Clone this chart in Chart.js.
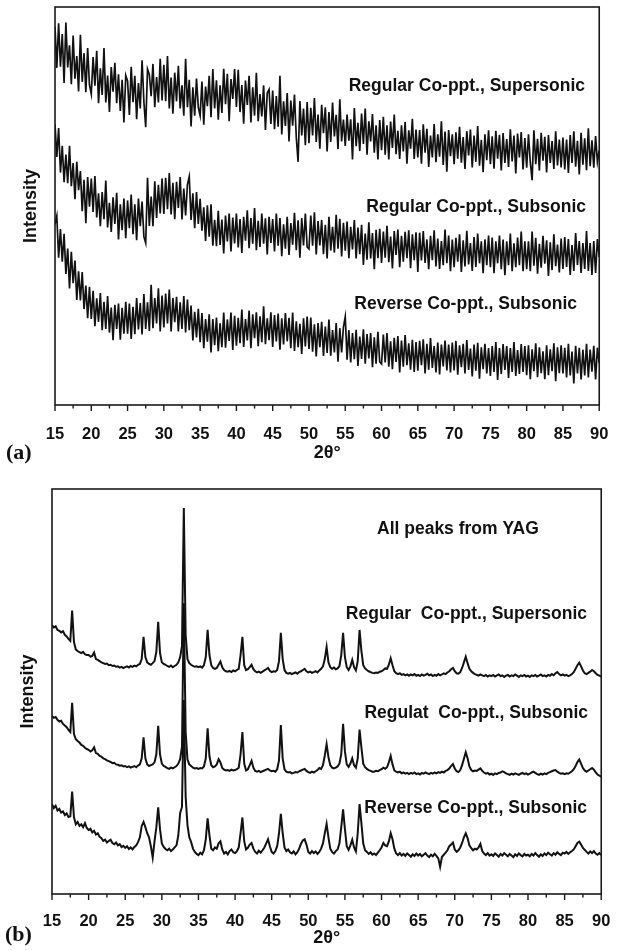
<!DOCTYPE html>
<html>
<head>
<meta charset="utf-8">
<script src="https://cdn.jsdelivr.net/npm/chart.js@4.4.1/dist/chart.umd.min.js"></script>
<style>
  html, body { margin: 0; padding: 0; background: #fff; }
  #wrap { position: relative; width: 620px; height: 950px; }
  canvas { position: absolute; left: 0; }
  #chartA { top: 0; }
  #chartB { top: 470px; }
</style>
</head>
<body>
<div id="wrap">
  <canvas id="chartA" width="620" height="470"></canvas>
  <canvas id="chartB" width="620" height="480"></canvas>
</div>
<script>
// X GRID (2theta, 0.25 deg sampling from 15 to 90)
const thetaStart = 15, thetaStep = 0.25, thetaCount = 301;
const twoTheta = [];
for (let i = 0; i < thetaCount; i++) twoTheta.push(thetaStart + i * thetaStep);

const xTicks = [15, 20, 25, 30, 35, 40, 45, 50, 55, 60, 65, 70, 75, 80, 85, 90];
const minorTicks = [17.5, 22.5, 27.5, 32.5, 37.5, 42.5, 47.5, 52.5, 57.5, 62.5, 67.5, 72.5, 77.5, 82.5, 87.5];

// PANEL (a) - amorphous precursors, intensity in arbitrary units (0-1000)
const aSupersonic = [
  950, 847, 959, 850, 932, 809, 961, 848, 904, 806, 928, 820, 877, 788, 930, 812, 884, 786, 897, 804,
  781, 874, 802, 890, 758, 846, 779, 897, 760, 828, 736, 849, 787, 860, 758, 831, 739, 817, 710, 828,
  814, 729, 850, 761, 827, 718, 809, 745, 866, 762, 698, 844, 830, 776, 857, 748, 824, 760, 870, 765,
  855, 763, 877, 745, 823, 732, 835, 763, 852, 745, 803, 727, 870, 748, 817, 700, 798, 727, 820, 748,
  727, 813, 704, 800, 751, 827, 723, 844, 745, 816, 717, 803, 734, 845, 756, 832, 713, 819, 769, 844,
  749, 842, 736, 804, 707, 815, 754, 827, 710, 798, 727, 835, 713, 781, 725, 803, 691, 784, 793, 706,
  790, 693, 776, 699, 827, 680, 763, 701, 784, 662, 765, 702, 780, 673, 611, 764, 677, 745, 653, 761,
  658, 747, 677, 771, 661, 730, 644, 754, 683, 748, 637, 736, 661, 760, 675, 729, 643, 768, 662, 717,
  651, 730, 664, 718, 617, 746, 650, 709, 638, 732, 656, 745, 629, 713, 662, 731, 634, 703, 617, 716,
  640, 724, 629, 703, 617, 712, 646, 730, 630, 689, 618, 703, 637, 711, 606, 690, 644, 719, 618, 692,
  622, 691, 606, 705, 634, 694, 598, 677, 622, 706, 610, 680, 624, 713, 603, 687, 586, 691, 625, 680,
  605, 685, 619, 699, 609, 673, 593, 688, 627, 692, 597, 677, 611, 701, 601, 666, 585, 680, 615, 690,
  605, 675, 594, 689, 619, 679, 589, 683, 608, 668, 598, 693, 612, 677, 582, 682, 622, 686, 592, 671,
  596, 680, 610, 565, 690, 605, 669, 589, 684, 614, 674, 584, 678, 608, 663, 593, 688, 602, 667, 597,
  672, 592, 667, 583, 678, 608, 688, 599, 664, 579, 684, 604, 670, 590, 695, 600, 665, 596, 676, 611,
  640
];
const aSubsonic = [
  705, 623, 696, 584, 651, 560, 629, 557, 651, 550, 608, 517, 611, 540, 588, 487, 566, 457, 573, 498,
  569, 485, 575, 471, 532, 449, 535, 467, 564, 446, 508, 435, 522, 455, 533, 416, 504, 439, 519, 419,
  514, 444, 529, 429, 504, 414, 519, 449, 511, 423, 407, 571, 450, 524, 449, 562, 470, 553, 481, 569,
  480, 571, 492, 583, 479, 558, 467, 561, 495, 573, 466, 544, 476, 554, 574, 465, 532, 444, 535, 455,
  518, 438, 497, 412, 502, 423, 504, 400, 465, 399, 488, 402, 466, 381, 476, 411, 481, 386, 471, 406,
  481, 396, 467, 382, 473, 413, 489, 394, 470, 405, 495, 389, 463, 397, 481, 405, 469, 378, 473, 407,
  467, 386, 481, 400, 470, 374, 454, 393, 473, 377, 457, 403, 483, 389, 464, 370, 470, 401, 481, 397,
  392, 476, 400, 484, 378, 462, 401, 465, 379, 453, 368, 473, 388, 448, 383, 478, 393, 468, 373, 458,
  388, 461, 369, 448, 391, 465, 368, 446, 379, 453, 352, 431, 365, 459, 368, 432, 341, 440, 369, 443,
  357, 436, 370, 450, 359, 423, 343, 437, 377, 441, 346, 425, 360, 435, 369, 439, 344, 429, 364, 434,
  334, 433, 363, 437, 357, 416, 341, 425, 364, 439, 348, 418, 342, 412, 351, 441, 356, 426, 336, 416,
  346, 420, 360, 429, 334, 414, 348, 438, 353, 407, 337, 422, 347, 431, 356, 411, 331, 416, 351, 426,
  346, 421, 331, 411, 356, 426, 341, 416, 326, 411, 351, 431, 336, 406, 346, 421, 351, 436, 336, 411,
  341, 411, 336, 436, 350, 420, 330, 405, 345, 425, 355, 414, 324, 409, 339, 429, 349, 403, 333, 418,
  342, 422, 347, 417, 327, 402, 337, 432, 352, 412, 332, 407, 342, 437, 337, 407, 327, 412, 332, 417,
  372
];
const aReverse = [
  454, 475, 370, 442, 360, 430, 329, 393, 293, 385, 306, 363, 264, 336, 263, 334, 241, 300, 218, 297,
  216, 287, 198, 268, 209, 281, 188, 259, 191, 274, 182, 245, 163, 252, 191, 255, 164, 244, 179, 259,
  179, 255, 166, 247, 178, 269, 190, 256, 177, 279, 191, 258, 186, 302, 193, 269, 205, 293, 185, 275,
  195, 280, 205, 290, 185, 269, 208, 272, 185, 258, 191, 274, 182, 265, 188, 250, 162, 234, 170, 242,
  158, 231, 143, 216, 159, 228, 132, 216, 150, 220, 135, 205, 145, 232, 144, 215, 161, 232, 138, 224,
  149, 219, 155, 240, 146, 216, 162, 237, 143, 228, 168, 233, 148, 223, 158, 248, 153, 218, 163, 233,
  146, 226, 160, 230, 139, 218, 152, 231, 160, 219, 143, 232, 136, 210, 145, 204, 128, 218, 147, 222,
  141, 220, 134, 203, 122, 206, 145, 209, 123, 197, 131, 215, 124, 188, 132, 206, 109, 193, 132, 196,
  222, 114, 188, 107, 181, 115, 189, 98, 172, 116, 190, 104, 178, 117, 181, 95, 170, 104, 184, 108,
  103, 177, 107, 181, 96, 160, 90, 169, 108, 173, 82, 162, 96, 176, 100, 155, 89, 164, 83, 158,
  86, 161, 100, 165, 79, 154, 89, 168, 93, 148, 82, 157, 77, 152, 97, 162, 87, 152, 82, 157,
  87, 161, 76, 150, 95, 154, 79, 163, 88, 142, 72, 152, 86, 156, 66, 145, 90, 154, 79, 143,
  73, 148, 83, 158, 63, 143, 78, 153, 88, 148, 68, 143, 83, 158, 73, 138, 78, 153, 83, 148,
  75, 150, 65, 140, 85, 155, 70, 145, 80, 135, 65, 150, 75, 140, 85, 155, 60, 145, 80, 150,
  79, 144, 69, 154, 74, 134, 54, 149, 79, 144, 64, 139, 74, 154, 69, 139, 84, 149, 64, 144,
  105
];

// PANEL (b) - calcined powders, YAG peaks
const bSupersonic = [
  664, 658, 661, 652, 650, 646, 649, 640, 636, 630, 625, 700, 622, 604, 600, 597, 595, 598, 592, 590,
  590, 586, 588, 596, 580, 578, 575, 572, 570, 568, 569, 565, 566, 563, 564, 561, 562, 559, 561, 558,
  560, 562, 559, 563, 561, 564, 562, 566, 568, 580, 635, 585, 572, 568, 566, 570, 575, 598, 672, 595,
  572, 568, 566, 563, 561, 564, 560, 563, 566, 572, 585, 612, 953, 640, 580, 570, 566, 563, 561, 562,
  560, 562, 559, 565, 585, 652, 590, 565, 558, 556, 558, 566, 574, 560, 553, 550, 549, 551, 548, 552,
  550, 553, 556, 590, 635, 565, 553, 555, 560, 566, 555, 550, 547, 549, 546, 549, 552, 555, 558, 551,
  548, 550, 549, 553, 575, 645, 580, 553, 546, 544, 546, 543, 545, 547, 544, 548, 550, 553, 556, 550,
  547, 549, 546, 548, 550, 547, 552, 556, 562, 580, 610, 572, 560, 556, 559, 555, 557, 563, 590, 645,
  585, 560, 553, 562, 578, 560, 552, 575, 652, 600, 565, 557, 553, 550, 548, 546, 545, 547, 546, 549,
  550, 553, 557, 556, 566, 582, 565, 550, 545, 543, 545, 541, 543, 540, 542, 539, 542, 540, 543, 539,
  541, 538, 542, 539, 541, 544, 540, 542, 538, 541, 539, 543, 540, 542, 545, 543, 547, 550, 555, 558,
  550, 545, 544, 548, 558, 572, 586, 570, 556, 550, 546, 543, 541, 539, 542, 540, 538, 541, 537, 540,
  538, 541, 537, 540, 542, 538, 540, 536, 539, 541, 537, 540, 538, 542, 539, 536, 540, 538, 541, 537,
  539, 536, 540, 538, 541, 537, 539, 542, 538, 540, 537, 541, 539, 543, 540, 545, 548, 543, 540, 542,
  539, 541, 538, 540, 543, 548, 556, 565, 571, 562, 552, 545, 543, 546, 549, 553, 550, 545, 541, 539,
  537
];
const bSubsonic = [
  440, 435, 437, 430, 426, 428, 420, 416, 412, 405, 400, 472, 395, 382, 378, 374, 368, 366, 361, 358,
  356, 352, 355, 362, 348, 346, 341, 339, 335, 333, 330, 328, 326, 323, 324, 320, 319, 317, 318, 315,
  316, 313, 315, 312, 314, 316, 313, 317, 320, 335, 387, 335, 320, 316, 318, 320, 325, 345, 415, 345,
  322, 316, 314, 311, 309, 312, 310, 313, 316, 322, 333, 364, 718, 400, 332, 320, 316, 312, 310, 311,
  309, 311, 310, 315, 335, 409, 340, 318, 313, 315, 320, 333, 325, 311, 307, 305, 306, 304, 307, 305,
  306, 308, 312, 345, 400, 322, 305, 308, 318, 329, 312, 304, 302, 304, 301, 303, 305, 307, 309, 305,
  303, 304, 302, 308, 330, 417, 335, 308, 302, 300, 301, 298, 299, 301, 300, 303, 305, 307, 309, 304,
  301, 299, 302, 300, 303, 306, 311, 309, 318, 342, 370, 338, 318, 312, 310, 312, 315, 322, 345, 420,
  352, 320, 314, 322, 335, 318, 312, 335, 406, 362, 322, 313, 309, 306, 304, 302, 302, 304, 303, 306,
  308, 312, 309, 313, 325, 341, 320, 305, 302, 300, 302, 298, 300, 297, 299, 296, 299, 297, 300, 296,
  298, 295, 299, 297, 300, 298, 296, 299, 297, 300, 298, 301, 299, 302, 300, 304, 306, 310, 316, 321,
  310, 303, 301, 306, 318, 334, 350, 335, 315, 306, 303, 305, 304, 307, 310, 304, 300, 297, 299, 295,
  297, 294, 298, 296, 299, 300, 303, 301, 298, 296, 294, 297, 295, 298, 296, 294, 297, 299, 296, 298,
  295, 297, 300, 302, 299, 296, 294, 297, 295, 298, 296, 299, 301, 303, 305, 306, 302, 299, 297, 298,
  296, 298, 297, 300, 303, 308, 316, 326, 332, 322, 311, 305, 302, 305, 308, 311, 307, 300, 295, 292,
  290
];
const bReverse = [
  222, 212, 218, 206, 210, 201, 204, 195, 199, 190, 192, 253, 190, 172, 178, 168, 172, 165, 175, 163,
  158, 161, 152, 156, 147, 150, 141, 138, 131, 134, 127, 131, 134, 126, 123, 127, 120, 123, 116, 119,
  114, 118, 111, 115, 110, 116, 120, 128, 140, 168, 178, 165, 150, 140, 118, 90, 130, 165, 214, 160,
  125, 116, 111, 108, 112, 106, 110, 115, 120, 145, 200, 215, 479, 240, 170, 140, 128, 112, 104, 99,
  96, 102, 98, 108, 135, 187, 145, 112, 108, 115, 112, 125, 130, 110, 100, 104, 98, 106, 110, 103,
  101, 106, 115, 150, 189, 130, 110, 114, 122, 126, 112, 104, 100, 107, 102, 108, 115, 125, 135, 118,
  104, 100, 106, 118, 150, 198, 150, 115, 106, 110, 103, 100, 105, 98, 103, 112, 124, 132, 135, 122,
  104, 100, 106, 101, 105, 99, 104, 112, 125, 150, 173, 140, 112, 104, 100, 106, 110, 125, 165, 209,
  160, 118, 109, 120, 134, 115, 105, 150, 222, 175, 125, 108, 104, 99, 103, 97, 100, 96, 102, 108,
  115, 126, 120, 118, 130, 150, 135, 112, 100, 96, 101, 95, 99, 94, 100, 96, 92, 98, 94, 100,
  95, 99, 93, 97, 101, 95, 91, 97, 93, 99, 94, 88, 67, 92, 97, 102, 108, 118, 122, 127,
  110, 104, 108, 115, 126, 140, 150, 138, 120, 113, 108, 112, 110, 115, 124, 106, 100, 96, 101, 95,
  98, 94, 100, 96, 92, 99, 95, 101, 97, 93, 99, 95, 91, 98, 94, 100, 96, 93, 99, 95,
  97, 93, 99, 95, 101, 96, 92, 98, 94, 100, 96, 102, 98, 95, 101, 97, 103, 99, 96, 102,
  100, 104, 99, 103, 106, 110, 118, 126, 129, 122, 114, 109, 104, 100, 105, 101, 106, 100, 97, 101,
  96
];

const SANS = '"Liberation Sans", Arial, Helvetica, sans-serif';
const SERIF = '"Liberation Serif", "Times New Roman", serif';
const INK = "#111";

// FRAME, TICK MARKS AND IN-PLOT LABELS
function framePlugin(labels) {
  return {
    id: "frame",
    afterDraw(chart) {
      const { ctx, chartArea: a } = chart;
      const x = chart.scales.x;
      ctx.save();
      ctx.strokeStyle = "#1a1a1a";
      ctx.lineWidth = 1.6;
      ctx.strokeRect(a.left, a.top, a.right - a.left, a.bottom - a.top);

      ctx.lineWidth = 1.4;
      ctx.beginPath();
      xTicks.forEach(v => {
        const px = x.getPixelForValue(v);
        ctx.moveTo(px, a.bottom);
        ctx.lineTo(px, a.bottom + 6);
      });
      minorTicks.forEach(v => {
        const px = x.getPixelForValue(v);
        ctx.moveTo(px, a.bottom);
        ctx.lineTo(px, a.bottom + 3.5);
      });
      ctx.stroke();

      ctx.fillStyle = INK;
      ctx.textBaseline = "middle";
      labels.forEach(l => {
        ctx.font = l.font;
        ctx.textAlign = l.align;
        ctx.fillText(l.text, l.x, l.y);
      });
      ctx.restore();
    }
  };
}

function makePanel(canvasId, series, cfg) {
  return new Chart(document.getElementById(canvasId), {
    type: "line",
    data: {
      labels: twoTheta,
      datasets: series.map(s => ({
        data: s,
        borderColor: INK,
        borderWidth: cfg.lineWidth,
        borderJoinStyle: "miter",
        pointRadius: 0,
        fill: false,
        tension: 0
      }))
    },
    options: {
      responsive: false,
      animation: false,
      devicePixelRatio: 1,
      events: [],
      layout: { padding: cfg.padding },
      plugins: { legend: { display: false }, tooltip: { enabled: false } },
      scales: {
        x: {
          type: "linear",
          min: 15,
          max: 90,
          afterBuildTicks: s => { s.ticks = xTicks.map(v => ({ value: v })); },
          afterFit: s => { s.height = cfg.xHeight; },
          grid: { display: false },
          border: { display: false },
          ticks: {
            autoSkip: false,
            maxRotation: 0,
            padding: cfg.tickPad,
            color: INK,
            font: { family: SANS, size: 16.5, weight: "bold" },
            callback: v => String(v)
          },
          title: {
            display: true,
            text: "2θ°",
            color: INK,
            padding: 0,
            font: { family: SANS, size: 18, weight: "bold" }
          }
        },
        y: {
          min: 0,
          max: 1000,
          afterFit: s => { s.width = cfg.yWidth; },
          grid: { display: false },
          border: { display: false },
          ticks: { display: false },
          title: {
            display: true,
            text: "Intensity",
            color: INK,
            padding: { top: cfg.yTitlePad, bottom: 0 },
            font: { family: SANS, size: 18, weight: "bold" }
          }
        }
      }
    },
    plugins: [framePlugin(cfg.labels)]
  });
}

const LABEL_FONT = "bold 17.5px " + SANS;
const PANEL_FONT = "bold 22px " + SERIF;

makePanel("chartA", [aSupersonic, aSubsonic, aReverse], {
  lineWidth: 1.7,
  padding: { left: 0, right: 14, top: 7, bottom: 6 },
  xHeight: 59,
  yWidth: 55,
  tickPad: 11.6,
  yTitlePad: 20,
  labels: [
    { text: "Regular Co-ppt., Supersonic", x: 585, y: 86, align: "right", font: LABEL_FONT },
    { text: "Regular Co-ppt., Subsonic", x: 586, y: 207, align: "right", font: LABEL_FONT },
    { text: "Reverse Co-ppt., Subsonic", x: 577, y: 304, align: "right", font: LABEL_FONT },
    { text: "(a)", x: 6, y: 453, align: "left", font: PANEL_FONT }
  ]
});

makePanel("chartB", [bSupersonic, bSubsonic, bReverse], {
  lineWidth: 2,
  padding: { left: 0, right: 9, top: 19, bottom: 1 },
  xHeight: 55,
  yWidth: 52,
  tickPad: 9.6,
  yTitlePad: 17,
  labels: [
    { text: "All peaks from YAG", x: 377, y: 59, align: "left", font: LABEL_FONT },
    { text: "Regular  Co-ppt., Supersonic", x: 587, y: 144, align: "right", font: LABEL_FONT },
    { text: "Regulat  Co-ppt., Subsonic", x: 588, y: 243, align: "right", font: LABEL_FONT },
    { text: "Reverse Co-ppt., Subsonic", x: 587, y: 338, align: "right", font: LABEL_FONT },
    { text: "(b)", x: 5, y: 465, align: "left", font: PANEL_FONT }
  ]
});
</script>
</body>
</html>
